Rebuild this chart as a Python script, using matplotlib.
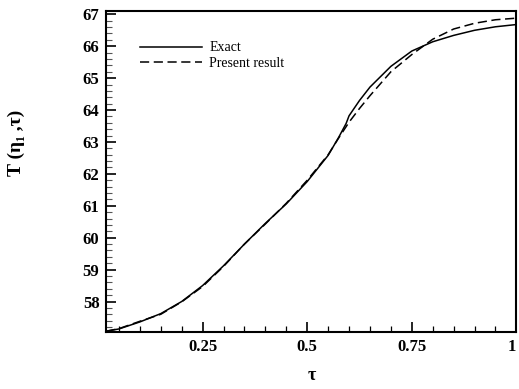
import matplotlib
matplotlib.use("Agg")
import matplotlib.pyplot as plt
from matplotlib.ticker import MultipleLocator

# data
exact_tau = [0.02, 0.05, 0.10, 0.15, 0.20, 0.25, 0.30, 0.35, 0.40, 0.45, 0.50,
             0.55, 0.575, 0.593, 0.60, 0.625, 0.65, 0.70, 0.75, 0.80, 0.85,
             0.90, 0.95, 1.0]
exact_T = [57.07, 57.14, 57.36, 57.62, 58.00, 58.50, 59.12, 59.80, 60.45,
           61.06, 61.76, 62.58, 63.14, 63.58, 63.82, 64.30, 64.72, 65.37,
           65.85, 66.14, 66.34, 66.50, 66.61, 66.68]

present_tau = [0.02, 0.05, 0.10, 0.15, 0.20, 0.25, 0.30, 0.35, 0.40, 0.45,
               0.50, 0.55, 0.575, 0.60, 0.625, 0.65, 0.70, 0.75, 0.80, 0.85,
               0.90, 0.95, 1.0]
present_T = [57.07, 57.15, 57.38, 57.60, 57.99, 58.47, 59.10, 59.80, 60.43,
             61.08, 61.80, 62.60, 63.12, 63.62, 64.05, 64.45, 65.20, 65.74,
             66.22, 66.54, 66.72, 66.83, 66.88]

xticks = [0.25, 0.5, 0.75, 1.0]
xtick_labels = ["0.25", "0.5", "0.75", "1"]
yticks = [58, 59, 60, 61, 62, 63, 64, 65, 66, 67]

serif = ["Liberation Serif", "DejaVu Serif"]

fig = plt.figure(figsize=(5.19, 3.89), dpi=100)
ax = fig.add_axes([0.205, 0.147, 0.790, 0.826])

ax.plot(exact_tau, exact_T, color="black", lw=1.1, label="Exact")
ax.plot(present_tau, present_T, color="black", lw=1.1, dashes=(6, 3),
        label="Present result")

ax.set_xlim(0.02, 1.0)
ax.set_ylim(57.05, 67.12)

ax.set_xticks(xticks)
ax.set_xticklabels(xtick_labels)
ax.set_yticks(yticks)
ax.xaxis.set_minor_locator(MultipleLocator(0.05))
ax.yaxis.set_minor_locator(MultipleLocator(0.2))

ax.tick_params(which="both", direction="in", top=False, right=False)
ax.tick_params(which="major", length=7, width=1.2, pad=5)
ax.tick_params(axis="x", which="minor", length=4, width=0.9)
ax.tick_params(axis="y", which="minor", length=4, width=0.8, color="#555555")

for lbl in ax.get_xticklabels() + ax.get_yticklabels():
    lbl.set_family(serif)
    lbl.set_fontweight("bold")
    lbl.set_fontsize(12)
ax.get_xticklabels()[-1].set_ha("right")

for sp in ax.spines.values():
    sp.set_linewidth(1.5)

ax.set_xlabel("τ", family=serif, fontweight="bold", fontsize=13, labelpad=9)
fig.text(0.031, 0.632, "T (η\u2081 ,τ)", family=serif, fontweight="bold",
         fontsize=14, rotation=90, ha="center", va="center")

leg = ax.legend(loc="upper left", bbox_to_anchor=(0.068, 0.921), frameon=False,
                prop={"family": serif, "size": 10}, handlelength=4.5,
                handletextpad=0.5, labelspacing=0.2, borderaxespad=0)

fig.savefig("out.png", dpi=100)
